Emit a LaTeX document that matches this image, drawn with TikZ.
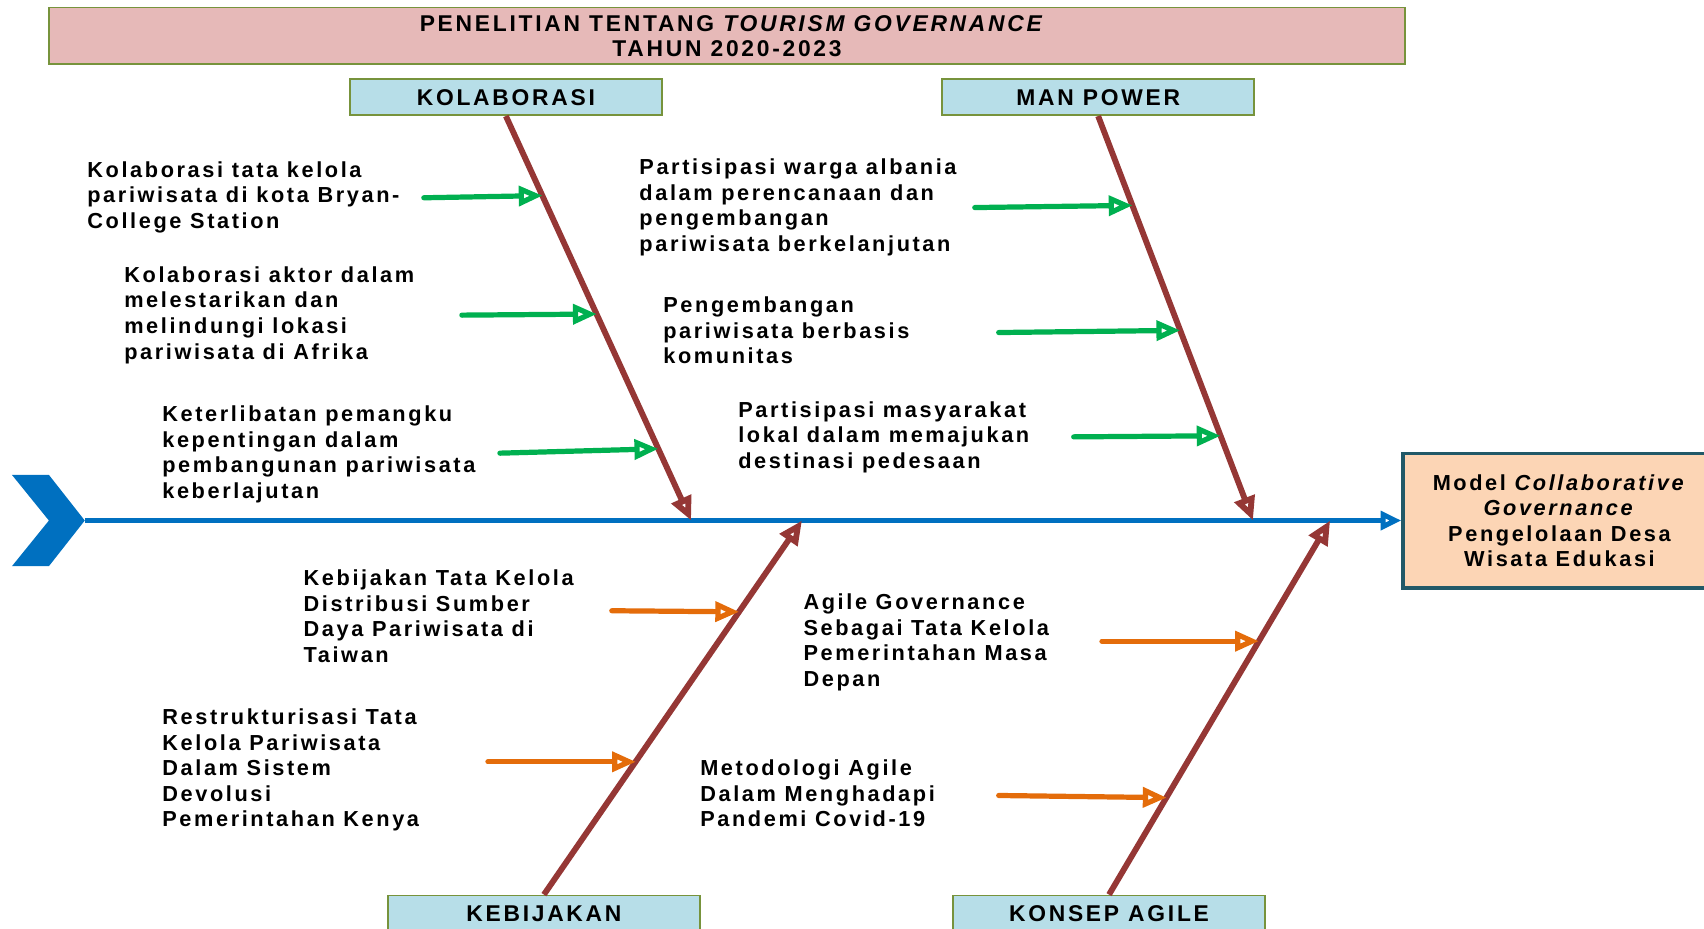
\documentclass[tikz,border=0pt]{standalone}
\usepackage{fontspec}
\setmainfont{Liberation Sans}
\newfontfamily\lsp[LetterSpace=12]{Liberation Sans}
\usetikzlibrary{arrows.meta}
\definecolor{titlefill}{HTML}{E6B9B8}
\definecolor{olive}{HTML}{77933C}
\definecolor{hdrfill}{HTML}{B7DEE8}
\definecolor{spinec}{HTML}{0070C0}
\definecolor{bonec}{HTML}{953735}
\definecolor{grn}{HTML}{00B050}
\definecolor{org}{HTML}{E46C0A}
\definecolor{goalfill}{HTML}{FCD5B5}
\definecolor{goaldraw}{HTML}{215968}
\begin{document}
\begin{tikzpicture}[x=0.5pt,y=-0.5pt,
  hdr/.style={draw=olive, line width=0.8pt, fill=hdrfill, minimum width=143.5pt, minimum height=16.5pt, inner sep=0pt, font=\lsp\bfseries\fontsize{10.5}{12}\selectfont},
  txt/.style={anchor=north west, inner sep=0pt, align=left, font=\lsp\bfseries\fontsize{10}{11.75}\selectfont},
  bonearrow/.style={draw=bonec, line width=2.7pt, -{Triangle[open,length=11pt,width=9.5pt,fill=white]}},
  grnarrow/.style={draw=grn, line width=2.4pt, line cap=round, -{Triangle[open,length=11pt,width=9pt,fill=white]}},
  orgarrow/.style={draw=org, line width=2.4pt, line cap=round, -{Triangle[open,length=11pt,width=9pt,fill=white]}}
]
\useasboundingbox (0,0) rectangle (1568,854);

% title
\node[draw=olive, line width=0.8pt, fill=titlefill, minimum width=624pt, minimum height=26pt, inner sep=0pt, align=center, font=\lsp\bfseries\fontsize{10.5}{11.5}\selectfont] (title) at (669,33) {\hspace*{5pt}PENELITIAN TENTANG \textit{TOURISM GOVERNANCE}\\TAHUN 2020-2023};

% headers
\node[hdr] (kol) at (465.5,89.5) {KOLABORASI};
\node[hdr] (man) at (1010.5,89.5) {MAN POWER};
\node[hdr] (keb) at (500.5,840.5) {KEBIJAKAN};
\node[hdr] (kon) at (1020.5,840.5) {KONSEP AGILE};

% goal
\node[draw=goaldraw, line width=1.5pt, fill=goalfill, minimum width=144pt, minimum height=62pt, inner sep=0pt, align=center, font=\lsp\bfseries\fontsize{10}{11.75}\selectfont] (goal) at (1435,479) {Model \textit{Collaborative}\\\textit{Governance}\\Pengelolaan Desa\\Wisata Edukasi};

% chevron and spine
\fill[spinec] (11,437) -- (45,437) -- (78,479) -- (45,521) -- (11,521) -- (45,479) -- cycle;
\coordinate (tail) at (78,479);
\draw[draw=spinec, line width=2.3pt, -{Triangle[open,length=9.5pt,width=8.5pt,fill=white]}] (tail) -- (goal.west);

% bones
\coordinate (kolE) at (636,479);
\coordinate (manE) at (1153,479);
\coordinate (kebE) at (738,479);
\coordinate (konE) at (1224,479);
\draw[bonearrow] (kol.south) -- (kolE);
\draw[bonearrow] (man.south) -- (manE);
\draw[bonearrow] (keb.north) -- (kebE);
\draw[bonearrow] (kon.north) -- (konE);

% texts
\node[txt] (t1) at (80,148) {Kolaborasi tata kelola\\pariwisata di kota Bryan-\\College Station};
\node[txt] (t2) at (114,245) {Kolaborasi aktor dalam\\melestarikan dan\\melindungi lokasi\\pariwisata di Afrika};
\node[txt] (t3) at (149,373) {Keterlibatan pemangku\\kepentingan dalam\\pembangunan pariwisata\\keberlajutan};
\node[txt] (t4) at (588,146) {Partisipasi warga albania\\dalam perencanaan dan\\pengembangan\\pariwisata berkelanjutan};
\node[txt] (t5) at (610,273) {Pengembangan\\pariwisata berbasis\\komunitas};
\node[txt] (t6) at (679,369) {Partisipasi masyarakat\\lokal dalam memajukan\\destinasi pedesaan};
\node[txt] (t7) at (279,524) {Kebijakan Tata Kelola\\Distribusi Sumber\\Daya Pariwisata di\\Taiwan};
\node[txt] (t8) at (149,652) {Restrukturisasi Tata\\Kelola Pariwisata\\Dalam Sistem\\Devolusi\\Pemerintahan Kenya};
\node[txt] (t9) at (739,546) {Agile Governance\\Sebagai Tata Kelola\\Pemerintahan Masa\\Depan};
\node[txt] (t10) at (644,699) {Metodologi Agile\\Dalam Menghadapi\\Pandemi Covid-19};

% green arrows
\coordinate (g1s) at (390,182); \coordinate (g1e) at (499.3,180);
\coordinate (g2s) at (425,290); \coordinate (g2e) at (549.2,289);
\coordinate (g3s) at (460,417); \coordinate (g3e) at (605.8,413);
\coordinate (g4s) at (897,191); \coordinate (g4e) at (1042.2,189);
\coordinate (g5s) at (919,306); \coordinate (g5e) at (1086.1,304);
\coordinate (g6s) at (988,402); \coordinate (g6e) at (1123.2,401);
\foreach \i in {1,...,6} {\draw[grnarrow] (g\i s) -- (g\i e);}

% orange arrows
\coordinate (o1s) at (563,562); \coordinate (o1e) at (680.2,563);
\coordinate (o2s) at (449,701); \coordinate (o2e) at (585.2,701);
\coordinate (o3s) at (1014,590); \coordinate (o3e) at (1158.5,590);
\coordinate (o4s) at (919,732); \coordinate (o4e) at (1073.6,734);
\foreach \i in {1,...,4} {\draw[orgarrow] (o\i s) -- (o\i e);}
\end{tikzpicture}
\end{document}
